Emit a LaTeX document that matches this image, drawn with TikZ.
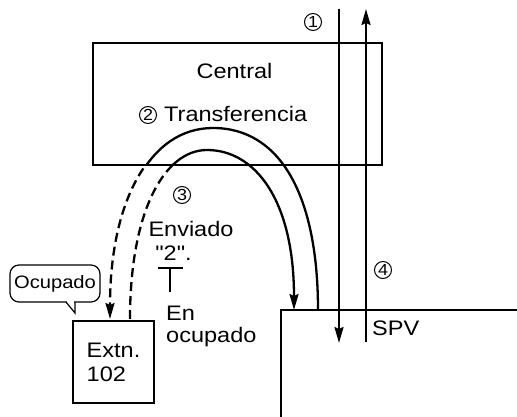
\documentclass[tikz,border=0pt]{standalone}
\usepackage{fontspec}
\setmainfont[FakeStretch=1.12, Ligatures=TeXOff]{Liberation Sans}
\usetikzlibrary{arrows.meta}
\usetikzlibrary{positioning}

\begin{document}
\begin{tikzpicture}[x=1pt, y=-1pt, >={Stealth[length=16pt, width=9pt, inset=2pt]}]

	\tikzset{
		box/.style={draw=black, line width=2.6pt, inner sep=0pt},
		thinbox/.style={draw=black, line width=1.2pt, inner sep=0pt},
		flow/.style={->, line width=2.3pt},
		flowline/.style={line width=2.3pt},
		dashflow/.style={line width=2.3pt, dash pattern=on 9pt off 5pt},
		numcirc/.style={draw, circle, line width=1pt, inner sep=0pt, minimum size=17pt, font=\fontsize{16}{16}\selectfont},
		lab/.style={font=\fontsize{21}{22}\selectfont, inner sep=0pt},
		smalllab/.style={font=\fontsize{18}{20}\selectfont, inner sep=0pt},
	}

	\useasboundingbox (0,0) rectangle (517,417);

	% --- Central box with its texts
	\node[box, minimum width=289pt, minimum height=122pt] (central) at (237.5,104) {};
	\node[lab, anchor=base] (centraltxt) at (234.5,79) {Central};
	\node[numcirc] (n2) at (148,115) {2};
	\node[lab, anchor=base west] (transf) at (164,122) {Transferencia};

	% --- SPV (open box, lower right)
	\coordinate (spvcorner) at (281,310);
	\draw[line width=1.2pt] (281,417) -- (spvcorner) -- (517,310);
	\node[lab, anchor=base west] (spv) at (372,335) {SPV};

	% --- extension and busy bubble
	\node[thinbox, font=\fontsize{21}{24}\selectfont, align=left, minimum width=81pt, minimum height=82pt] (extn) at (113.5,362) {Extn.\\102};
	\node[thinbox, smalllab, rounded corners=9pt, minimum width=90pt, minimum height=37pt] (ocup) at (55,283.5) {Ocupado};
	\fill[white] (67,300) rectangle (74.4,304);
	\draw[line width=1.2pt] (66,302) -- (75,313) -- (75,302);

	% --- step labels
	\node[numcirc] (n1) at (313,22) {1};
	\node[numcirc] (n3) at (182,195) {3};
	\node[numcirc] (n4) at (383,270) {4};
	\node[lab, anchor=base] (sent) at (191,236) {Enviado};
	\node[lab, anchor=base] (two) at (173.5,260) {"2".};
	\draw[line width=1.4pt] (158,268) -- (183,268) (170,268) -- (170,292);
	\node[lab, align=left, anchor=north west] (busy) at (166,306) {En\\ocupado};

	% --- vertical calls
	\coordinate (d1top) at (339,9);
	\coordinate (d1bot) at (339,343);
	\coordinate (u4bot) at (366,342);
	\coordinate (u4top) at (366,9);
	\draw[flow] (d1top) -- (d1bot);
	\draw[flow] (u4bot) -- (u4top);

	% --- transfer arcs
	\coordinate (outS) at (318,310);
	\coordinate (outTop) at (213,128);
	\coordinate (outE) at (110,319);
	\coordinate (inS) at (130,319);
	\coordinate (inTop) at (207,150);
	\coordinate (inE) at (294,310);

	\draw[flowline] (outS) .. controls (318,195) and (280,128) .. (outTop);
	\draw[flow] (inTop) .. controls (255,150) and (294,200) .. (inE);
	\begin{scope}
		\clip (0,0) rectangle (517,165);
		\draw[flowline] (outTop) .. controls (150,128) and (110,200) .. (outE);
		\draw[flowline] (inS) .. controls (130,210) and (165,150) .. (inTop);
	\end{scope}
	\begin{scope}
		\clip (0,165) rectangle (517,417);
		\draw[dashflow, ->] (outTop) .. controls (150,128) and (110,200) .. (outE);
		\draw[dashflow] (inS) .. controls (130,210) and (165,150) .. (inTop);
	\end{scope}

\end{tikzpicture}
\end{document}
